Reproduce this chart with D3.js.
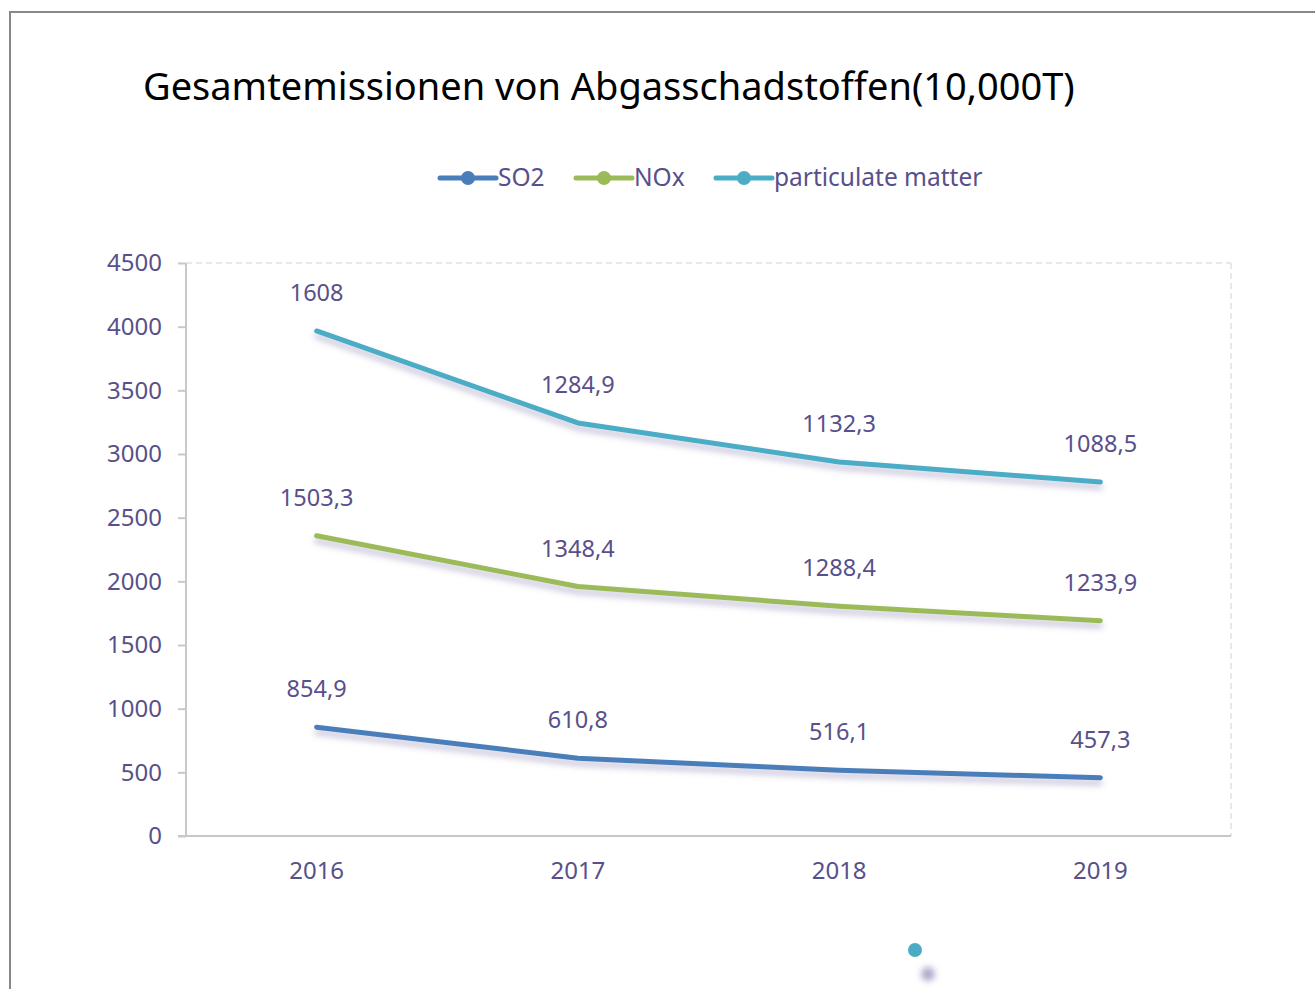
<!DOCTYPE html>
<html><head><meta charset="utf-8">
<script src="https://cdn.jsdelivr.net/npm/d3@7"></script>
<style>html,body{margin:0;padding:0;background:#fff;}svg{display:block;font-family:"Noto Sans","Open Sans",sans-serif;}</style>
</head><body>
<script>
const categories = ["2016","2017","2018","2019"];
const seriesNames = ["SO2","NOx","particulate matter"];
const so2 = [854.9, 610.8, 516.1, 457.3];
const nox = [1503.3, 1348.4, 1288.4, 1233.9];
const pm = [1608, 1284.9, 1132.3, 1088.5];
const yTicks = [0,500,1000,1500,2000,2500,3000,3500,4000,4500];
const colors = ["#4a7ebb","#9bbb59","#4bacc6"];

const W=1315,H=989;
const svg=d3.select("body").append("svg").attr("width",W).attr("height",H);
const defs=svg.append("defs");
const f=defs.append("filter").attr("id","sh").attr("x","-10%").attr("y","-50%").attr("width","120%").attr("height","300%");
f.append("feDropShadow").attr("dx",0).attr("dy",5).attr("stdDeviation",3).attr("flood-color","#7d74a8").attr("flood-opacity",0.45);
const fb=defs.append("filter").attr("id","blur").attr("x","-100%").attr("y","-100%").attr("width","300%").attr("height","300%");
fb.append("feGaussianBlur").attr("stdDeviation",3);

// outer frame
svg.append("path").attr("d","M10,989 V12 H1315").attr("fill","none").attr("stroke","#888").attr("stroke-width",2);

svg.append("text").attr("x",143).attr("y",100).attr("font-size",38).attr("fill","#000")
  .text("Gesamtemissionen von Abgasschadstoffen(10,000T)");

const L=186,R=1231,T=263,B=836;
const x=d3.scaleBand().domain(categories).range([L,R]);
const y=d3.scaleLinear().domain([0,4500]).range([B,T]);

const rows=categories.map((c,i)=>({cat:c,"SO2":so2[i],"NOx":nox[i],"particulate matter":pm[i]}));
const stacked=d3.stack().keys(seriesNames)(rows);

// plot area dashed border
svg.append("line").attr("x1",L).attr("x2",R).attr("y1",y(4500)).attr("y2",y(4500)).attr("stroke","#e8e8e8").attr("stroke-width",2).attr("stroke-dasharray","6,4");
svg.append("line").attr("x1",R).attr("x2",R).attr("y1",T).attr("y2",B).attr("stroke","#e8e8e8").attr("stroke-width",2).attr("stroke-dasharray","6,4");

const txtCol="#58508a";
const ya=svg.append("g").attr("transform",`translate(${L},0)`)
  .call(d3.axisLeft(y).tickValues(yTicks).tickFormat(d3.format("d")).tickSize(8).tickPadding(16));
ya.select(".domain").attr("stroke","#c8c8c8").attr("stroke-width",2).attr("d",`M0,${T}V${B}`);
ya.selectAll(".tick line").attr("stroke","#c8c8c8").attr("stroke-width",2);
ya.selectAll("text").attr("fill",txtCol).attr("font-size",24).attr("font-family","Noto Sans, sans-serif");

const xa=svg.append("g").attr("transform",`translate(0,${B})`)
  .call(d3.axisBottom(x).tickSize(0).tickPadding(26));
xa.select(".domain").attr("stroke","#c8c8c8").attr("stroke-width",2).attr("d",`M${L-8},0H${R}`);
xa.selectAll("text").attr("fill",txtCol).attr("font-size",24).attr("font-family","Noto Sans, sans-serif");

const line=d3.line().x(d=>x(d.data.cat)+x.bandwidth()/2).y(d=>y(d[1]));
const fmt=v=>String(v).replace(".",",");
stacked.forEach((s,k)=>{
  svg.append("path").datum(s).attr("d",line).attr("fill","none").attr("stroke",colors[k])
    .attr("stroke-width",5).attr("stroke-linecap","round").attr("stroke-linejoin","round").attr("filter","url(#sh)");
  svg.append("g").selectAll("text").data(s).join("text")
    .attr("x",d=>x(d.data.cat)+x.bandwidth()/2).attr("y",d=>y(d[1])-30)
    .attr("text-anchor","middle").attr("font-size",23.5).attr("fill",txtCol)
    .text(d=>fmt(d.data[s.key]));
});

// legend
const lg=[{x:440,tx:498},{x:576,tx:634},{x:716,tx:774}];
seriesNames.forEach((n,i)=>{
  const g=svg.append("g");
  g.append("line").attr("x1",lg[i].x).attr("x2",lg[i].x+56).attr("y1",178).attr("y2",178).attr("stroke",colors[i]).attr("stroke-width",5).attr("stroke-linecap","round");
  g.append("circle").attr("cx",lg[i].x+28).attr("cy",178).attr("r",7).attr("fill",colors[i]);
  g.append("text").attr("x",lg[i].tx).attr("y",186).attr("font-size",24.5).attr("fill",txtCol).text(n);
});

// stray decoration dots
svg.append("circle").attr("cx",928).attr("cy",974).attr("r",7).attr("fill","#b0a8cc").attr("filter","url(#blur)");
svg.append("circle").attr("cx",915).attr("cy",950).attr("r",7).attr("fill",colors[2]);
</script>
</body></html>
